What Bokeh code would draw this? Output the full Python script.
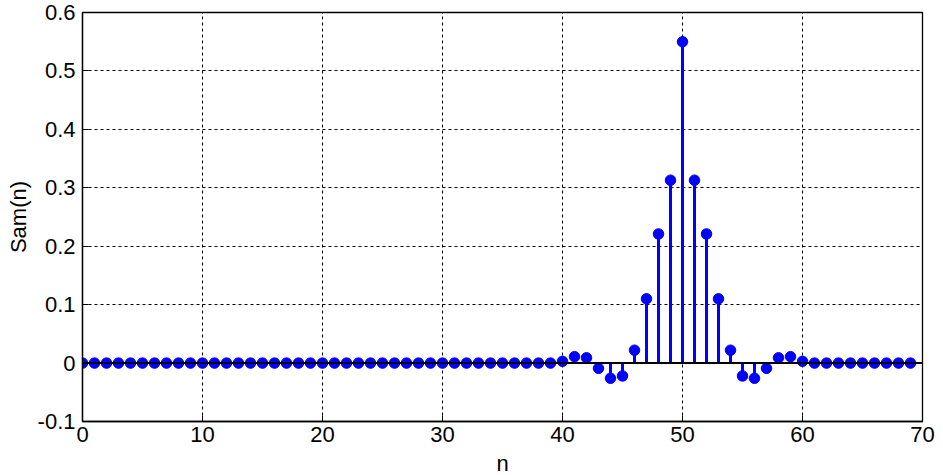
from bokeh.plotting import figure
from bokeh.models import FixedTicker, Range1d, Span
from bokeh.embed import file_html
from bokeh.resources import INLINE

n = list(range(70))
sam = [0.0] * 40 + [
    0.003, 0.011, 0.009, -0.009, -0.026, -0.022, 0.022, 0.110, 0.221, 0.313,
    0.550, 0.313, 0.221, 0.110, 0.022, -0.022, -0.026, -0.009, 0.009, 0.011,
    0.003,
] + [0.0] * 9

x_ticks = [0, 10, 20, 30, 40, 50, 60, 70]
y_ticks = [-0.1, 0, 0.1, 0.2, 0.3, 0.4, 0.5, 0.6]
y_tick_labels = {-0.1: "-0.1", 0: "0", 0.1: "0.1", 0.2: "0.2", 0.3: "0.3",
                 0.4: "0.4", 0.5: "0.5", 0.6: "0.6"}

FONT = "Liberation Sans"
FS = "22px"

p = figure(width=935, height=472, output_backend="svg", toolbar_location=None,
           x_range=Range1d(0, 70), y_range=Range1d(-0.1, 0.6),
           frame_width=840, frame_height=409,
           min_border_left=82, min_border_top=12, min_border_right=13, min_border_bottom=51)
p.outline_line_color = "black"
p.outline_line_width = 1.3
p.background_fill_color = "white"
p.border_fill_color = "white"

for ax in (p.xaxis[0], p.yaxis[0]):
    ax.major_tick_in = 6
    ax.major_tick_out = 0
    ax.minor_tick_in = 0
    ax.minor_tick_out = 0
    ax.axis_line_color = "black"
    ax.axis_line_width = 1.3
    ax.major_tick_line_color = "black"
    ax.major_label_text_font = FONT
    ax.major_label_text_font_size = FS
    ax.major_label_text_color = "black"
    ax.axis_label_text_font = FONT
    ax.axis_label_text_font_size = FS
    ax.axis_label_text_font_style = "normal"
    ax.axis_label_text_color = "black"

p.xaxis.ticker = FixedTicker(ticks=x_ticks)
p.yaxis.ticker = FixedTicker(ticks=y_ticks)
p.yaxis.major_label_overrides = y_tick_labels
p.xaxis.axis_label = "n"
p.yaxis.axis_label = "Sam(n)"
p.xaxis.major_label_standoff = 5
p.yaxis.major_label_standoff = 7
p.xaxis.axis_label_standoff = 6
p.yaxis.axis_label_standoff = 4

p.xgrid.ticker = FixedTicker(ticks=x_ticks)
p.ygrid.ticker = FixedTicker(ticks=y_ticks)
for g in (p.xgrid[0], p.ygrid[0]):
    g.grid_line_color = "black"
    g.grid_line_dash = "3 3"
    g.grid_line_width = 1
    g.grid_line_alpha = 1

p.add_layout(Span(location=0, dimension="width", line_color="black", line_width=2))

p.segment(x0=n, y0=[0] * len(n), x1=n, y1=sam, line_color="#0000FF", line_width=3)
p.scatter(n, sam, size=10.5, color="#0000FF", line_color="#0000FF")

open("out.html", "w").write(file_html(p, INLINE))
